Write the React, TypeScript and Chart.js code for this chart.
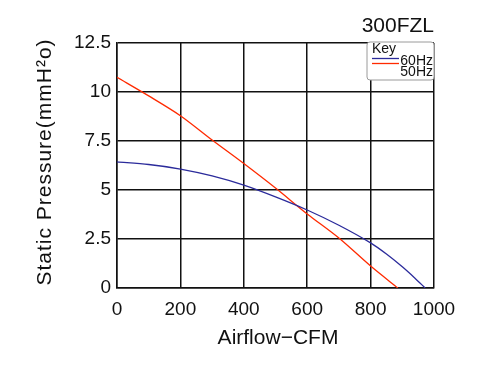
import React, { useEffect, useRef } from 'react';
import { Chart, registerables } from 'chart.js';

Chart.register(...registerables);

const airflow50 = [0, 100, 200, 300, 400, 500, 600, 700, 800, 886];
const pressure50 = [10.75, 9.8, 8.79, 7.55, 6.35, 5.1, 3.78, 2.55, 1.12, 0];
const airflow60 = [0, 100, 200, 300, 400, 500, 600, 700, 800, 850, 900, 940, 972];
const pressure60 = [6.43, 6.3, 6.07, 5.72, 5.25, 4.65, 3.98, 3.2, 2.3, 1.73, 1.08, 0.5, 0];
const xTicks = [0, 200, 400, 600, 800, 1000];
const yTicks = [0, 2.5, 5, 7.5, 10, 12.5];
const chartTitle = '300FZL';
const xTitle = 'Airflow\u2212CFM';
const yTitle = 'Static Pressure(mmH\u00B2o)';
const legendTitle = 'Key';
const seriesNames = ['60Hz', '50Hz'];

const FONT = "'Liberation Sans', Arial, Helvetica, sans-serif";
const RED = '#ff2a00';
const BLUE = '#2b2b9b';

const textPlugin = {
  id: 'textPlugin',
  afterDraw(chart: any) {
    const ctx = chart.ctx as CanvasRenderingContext2D;
    const area = chart.chartArea;
    ctx.save();
    ctx.fillStyle = '#111';
    // Title
    ctx.font = `21px ${FONT}`;
    ctx.textAlign = 'right';
    ctx.textBaseline = 'middle';
    ctx.fillText(chartTitle, area.right, 26);
    // x title
    ctx.textAlign = 'center';
    ctx.font = `21px ${FONT}`;
    ctx.fillText(xTitle, 278, 338);
    // y title
    ctx.save();
    ctx.translate(45, 162);
    ctx.rotate(-Math.PI / 2);
    (ctx as any).letterSpacing = '1px';
    ctx.fillText(yTitle, 0, 0);
    ctx.restore();
    // Legend box
    const bx = area.right - 67;
    const by = area.top - 1;
    const bw = 67;
    const bh = 38;
    ctx.beginPath();
    (ctx as any).roundRect(bx, by, bw, bh, 3);
    ctx.fillStyle = '#fff';
    ctx.fill();
    ctx.strokeStyle = '#9a9a9a';
    ctx.lineWidth = 1;
    ctx.stroke();
    ctx.fillStyle = '#111';
    ctx.font = `14px ${FONT}`;
    ctx.textAlign = 'left';
    ctx.fillText(legendTitle, bx + 5, by + 7.5);
    ctx.lineWidth = 1.3;
    ctx.strokeStyle = BLUE;
    ctx.beginPath();
    ctx.moveTo(bx + 5, by + 16.5);
    ctx.lineTo(bx + 32, by + 16.5);
    ctx.stroke();
    ctx.strokeStyle = RED;
    ctx.beginPath();
    ctx.moveTo(bx + 5, by + 21.5);
    ctx.lineTo(bx + 32, by + 21.5);
    ctx.stroke();
    ctx.textAlign = 'right';
    ctx.fillText(seriesNames[0], bx + bw - 1, by + 19);
    ctx.fillText(seriesNames[1], bx + bw - 1, by + 30);
    ctx.restore();
  },
};

export default function App() {
  const ref = useRef<HTMLCanvasElement>(null);
  useEffect(() => {
    if (!ref.current) return;
    const chart = new Chart(ref.current, {
      type: 'scatter',
      data: {
        datasets: [
          {
            label: seriesNames[0],
            data: airflow60.map((x, i) => ({ x, y: pressure60[i] })),
            showLine: true,
            borderColor: BLUE,
            borderWidth: 1.3,
            pointRadius: 0,
            tension: 0.3,
          },
          {
            label: seriesNames[1],
            data: airflow50.map((x, i) => ({ x, y: pressure50[i] })),
            showLine: true,
            borderColor: RED,
            borderWidth: 1.3,
            pointRadius: 0,
            tension: 0.3,
          },
        ],
      },
      options: {
        responsive: false,
        animation: false,
        layout: { padding: { top: 43, right: 63, bottom: 0, left: 0 } },
        plugins: { legend: { display: false }, tooltip: { enabled: false } },
        scales: {
          x: {
            type: 'linear',
            min: xTicks[0],
            max: xTicks[xTicks.length - 1],
            afterFit: (s: any) => { s.height = 85; },
            afterBuildTicks: (s: any) => { s.ticks = xTicks.map((v) => ({ value: v })); },
            grid: { color: '#111', lineWidth: 1.5, drawTicks: false },
            border: { color: '#111', width: 1.5 },
            ticks: {
              font: { family: FONT, size: 19 },
              color: '#111',
              padding: 10,
              maxRotation: 0,
              callback: (v: any) => String(v),
            },
          },
          y: {
            type: 'linear',
            min: yTicks[0],
            max: yTicks[yTicks.length - 1],
            afterFit: (s: any) => { s.width = 117; },
            afterBuildTicks: (s: any) => { s.ticks = yTicks.map((v) => ({ value: v })); },
            grid: { color: '#111', lineWidth: 1.5, drawTicks: false },
            border: { color: '#111', width: 1.5 },
            ticks: {
              font: { family: FONT, size: 19 },
              color: '#111',
              padding: 6,
              callback: (v: any) => String(v),
            },
          },
        },
      },
      plugins: [textPlugin],
    } as any);
    return () => chart.destroy();
  }, []);
  return (
    <div style={{ position: 'fixed', left: 0, top: 0 }}>
      <canvas ref={ref} width={497} height={373} style={{ display: 'block', width: 497, height: 373 }} />
    </div>
  );
}
